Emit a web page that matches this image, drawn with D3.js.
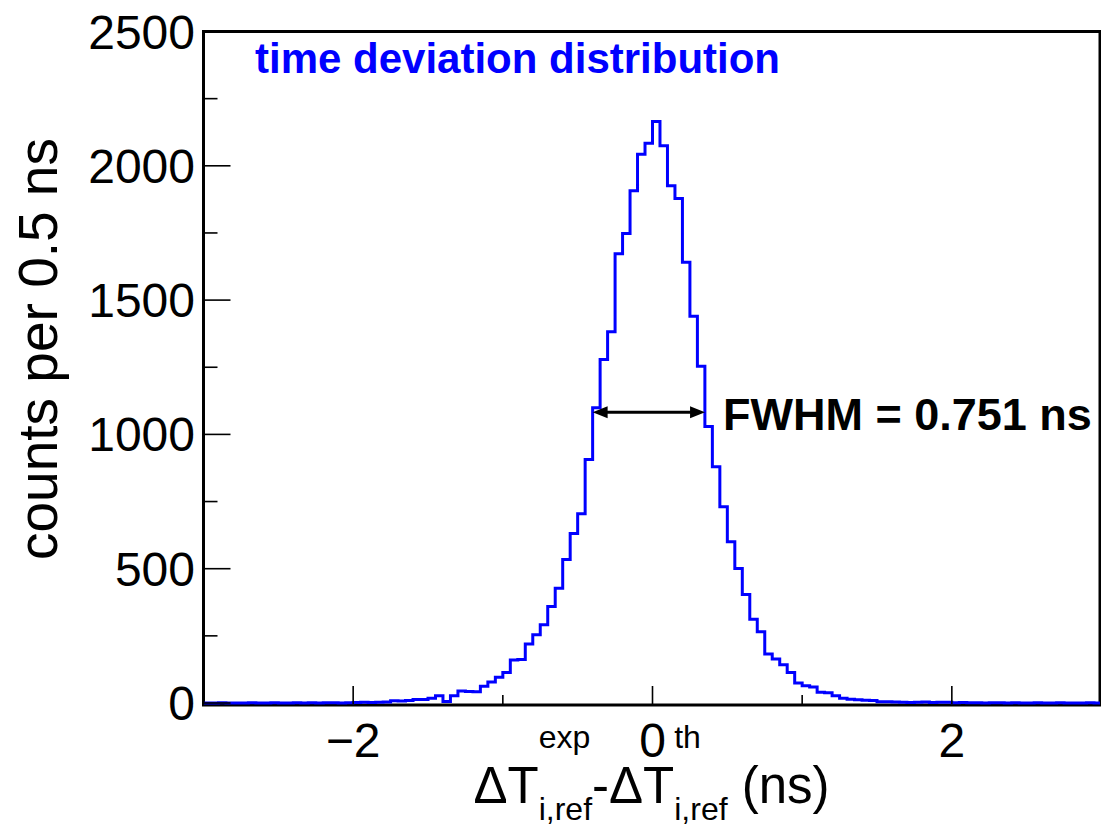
<!DOCTYPE html>
<html><head><meta charset="utf-8">
<script src="https://cdn.jsdelivr.net/npm/d3@7"></script>
<style>body{margin:0;background:#fff}svg{display:block}text{font-family:"Liberation Sans",Arial,Helvetica,sans-serif}</style>
</head><body><svg id="c" width="1101" height="829"></svg>
<script>
// ---- data ----
const binLow = -3.0;
const binWidth = 0.05;
const counts = [
  0,0,1,0,0,0,1,0,0,1,0,0,1,0,1,0,1,1,0,1,
  2,3,2,3,4,
  8,7,9,13,13,18,27,
  6,
  27,45,43,42,62,78,96,
  114,160,162,220,254,291,359,427,534,631,
  705,907,1099,1279,1382,1673,1748,1907,2043,2084,
  2165,2075,1926,1878,1641,1440,1254,1029,880,731,
  600,501,404,312,265,182,164,142,114,74,
  64,60,40,38,27,18,14,12,10,9,
  5,5,4,3,2,3,4,2,3,3,
  1,2,1,1,0,1,1,0,1,0,0,1,0,0,1,0,0,0,1,0
];
const xMajorTicks = [-2, 0, 2];
const xMajorLabels = ["\u22122", "0", "2"];
const xMinorTicks = [-3, -1, 1, 3];
const yMajorTicks = [0, 500, 1000, 1500, 2000, 2500];
const yMinorTicks = [250, 750, 1250, 1750, 2250];
const fwhmLeft = -0.4, fwhmRight = 0.351, halfMax = 1082;
const fwhmLabel = "FWHM = 0.751 ns";
const titleText = "time deviation distribution";
const yTitle = "counts per 0.5 ns";

// ---- layout ----
const L = 203.5, R = 1100, T = 31.5, B = 703;
const svg = d3.select("#c");
const x = d3.scaleLinear().domain([-3, 3]).range([L, 1101.5]);
const y = d3.scaleLinear().domain([0, 2500]).range([B, T]);

svg.append("clipPath").attr("id","clip").append("rect")
  .attr("x", L).attr("y", T).attr("width", R - L).attr("height", B - T + 3);

// frame
svg.append("rect").attr("x", L).attr("y", T).attr("width", R - L).attr("height", 705 - T)
  .attr("fill", "none").attr("stroke", "#000").attr("stroke-width", 3);

// histogram
const pts = counts.map((c, i) => [binLow + i * binWidth, c]);
pts.push([binLow + counts.length * binWidth, counts[counts.length - 1]]);
const line = d3.line().x(d => x(d[0])).y(d => y(d[1])).curve(d3.curveStepAfter);
svg.append("path").attr("d", line(pts)).attr("fill", "none")
  .attr("stroke", "#0000ff").attr("stroke-width", 3).attr("clip-path", "url(#clip)");

// y ticks
const gy = svg.append("g");
gy.selectAll("line.maj").data(yMajorTicks).join("line").attr("class","maj")
  .attr("x1", L).attr("x2", L + 27).attr("y1", d => y(d)).attr("y2", d => y(d))
  .attr("stroke", "#000").attr("stroke-width", 1.6);
gy.selectAll("line.min").data(yMinorTicks).join("line").attr("class","min")
  .attr("x1", L).attr("x2", L + 14).attr("y1", d => y(d)).attr("y2", d => y(d))
  .attr("stroke", "#000").attr("stroke-width", 1.6);
gy.selectAll("text").data(yMajorTicks).join("text")
  .attr("x", 195).attr("y", d => y(d) + 17).attr("text-anchor", "end")
  .attr("font-size", 48).text(d => d);

// x ticks
const gx = svg.append("g");
gx.selectAll("line.maj").data(xMajorTicks).join("line").attr("class","maj")
  .attr("x1", d => x(d)).attr("x2", d => x(d)).attr("y1", 704).attr("y2", 704 - 18)
  .attr("stroke", "#000").attr("stroke-width", 1.6);
gx.selectAll("line.min").data(xMinorTicks).join("line").attr("class","min")
  .attr("x1", d => x(d)).attr("x2", d => x(d)).attr("y1", 704).attr("y2", 704 - 9)
  .attr("stroke", "#000").attr("stroke-width", 1.6);
gx.selectAll("text").data(xMajorTicks).join("text")
  .attr("x", d => x(d)).attr("y", 757).attr("text-anchor", "middle")
  .attr("font-size", 48).text((d, i) => xMajorLabels[i]);

// title
svg.append("text").attr("x", 255).attr("y", 73).attr("font-size", 42)
  .attr("font-weight", "bold").attr("fill", "#0000ff").text(titleText);

// y axis title
svg.append("text").attr("transform", "translate(57,349) rotate(-90)")
  .attr("text-anchor", "middle").attr("font-size", 55).text(yTitle);

// FWHM arrow
const ay = y(halfMax);
const ax1 = x(fwhmLeft), ax2 = x(fwhmRight);
svg.append("line").attr("x1", ax1 + 8).attr("x2", ax2 - 8).attr("y1", ay).attr("y2", ay)
  .attr("stroke", "#000").attr("stroke-width", 3);
svg.append("path").attr("d", `M${ax1},${ay} L${ax1 + 15},${ay - 6} L${ax1 + 15},${ay + 6} Z`).attr("fill", "#000");
svg.append("path").attr("d", `M${ax2},${ay} L${ax2 - 15},${ay - 6} L${ax2 - 15},${ay + 6} Z`).attr("fill", "#000");
svg.append("text").attr("x", 723).attr("y", 430).attr("font-size", 45)
  .attr("font-weight", "bold").text(fwhmLabel);

// x axis title (latex-like)
const mainSize = 51, smallSize = 32, baseY = 803;
const gt = svg.append("g");
let cx = 0;
function mainPiece(t) {
  const el = gt.append("text").attr("x", cx).attr("y", baseY).attr("font-size", mainSize).text(t);
  cx += el.node().getComputedTextLength();
}
function stack(sup, sub) {
  const a = gt.append("text").attr("x", cx).attr("y", baseY - 55).attr("font-size", smallSize).text(sup);
  const b = gt.append("text").attr("x", cx).attr("y", baseY + 17).attr("font-size", smallSize).text(sub);
  cx += Math.max(a.node().getComputedTextLength(), b.node().getComputedTextLength());
}
mainPiece("\u0394T");
stack("exp", "i,ref");
mainPiece("-\u0394T");
stack("th", "i,ref");
mainPiece("\u00a0(ns)");
gt.attr("transform", `translate(${651.5 - cx / 2},0)`);
</script></body></html>
